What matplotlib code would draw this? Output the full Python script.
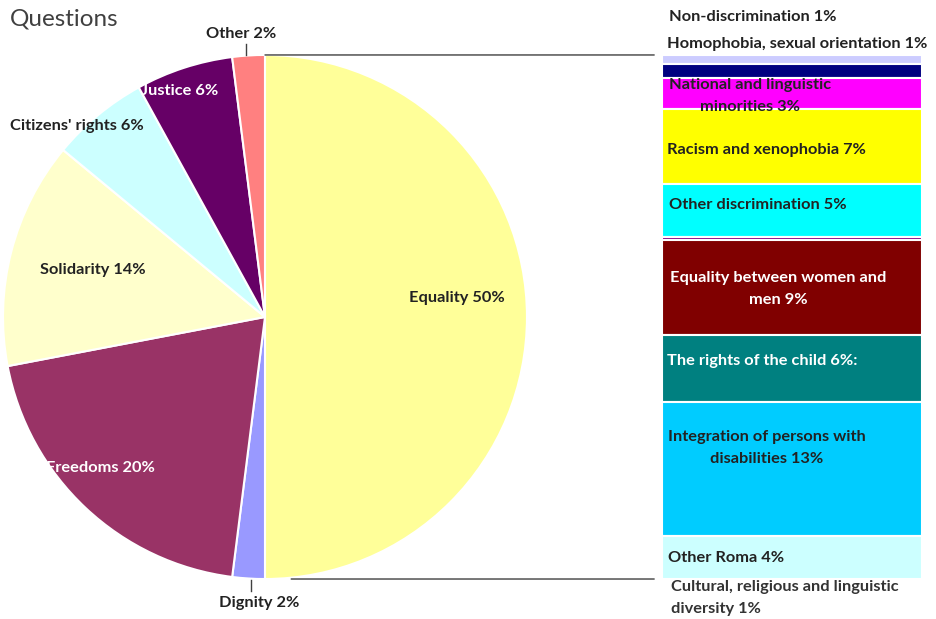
import matplotlib
matplotlib.use("Agg")
import matplotlib.pyplot as plt
from matplotlib.patches import ConnectionPatch

plt.rcParams['font.family'] = ['Lato', 'DejaVu Sans']

# pie: main question groups (clockwise from top)
pie_labels = ["Equality 50%", "Dignity 2%", "Freedoms 20%", "Solidarity 14%",
              "Citizens' rights 6%", "Justice 6%", "Other 2%"]
pie_values = [50, 2, 20, 14, 6, 6, 2]
pie_colors = ["#FFFF99", "#9999FF", "#993366", "#FFFFCC", "#CCFFFF", "#660066", "#FF8080"]

# stacked bar: breakdown of Equality (top to bottom)
bar_values = [0.9, 1.3, 3.0, 7.1, 5.1, 0.3, 9.0, 6.4, 12.8, 4.1]
bar_colors = ["#CCCCFF", "#000080", "#FF00FF", "#FFFF00", "#00FFFF", "#800080",
              "#800000", "#008080", "#00CCFF", "#CCFFFF"]

W, H = 937, 619
fig = plt.figure(figsize=(W / 100, H / 100), dpi=100)

def px(x, y):
    return x / W, 1 - y / H

ax_pie = fig.add_axes([0.0032, 0.0646, 0.5592, 0.8466])
ax_pie.pie(pie_values, colors=pie_colors, startangle=90, counterclock=False,
           radius=1, wedgeprops=dict(edgecolor="white", linewidth=1.5))
ax_pie.set_xlim(-1, 1)
ax_pie.set_ylim(-1, 1)
ax_pie.set_aspect("auto")
ax_pie.axis("off")

ax_bar = fig.add_axes([662 / W, 0.0646, 260 / W, 0.8466])
bottom = 0
for v, c in zip(bar_values, bar_colors):
    ax_bar.bar(0, v, bottom=bottom, width=1, color=c, edgecolor="white", linewidth=1.5)
    bottom += v
ax_bar.set_xlim(-0.5, 0.5)
ax_bar.set_ylim(sum(bar_values), 0)
ax_bar.axis("off")

# connector lines
for (pa, pb) in [((0, 1), (-0.03, 1)), ((0.1, -1), (-0.03, 0))]:
    con = ConnectionPatch(xyA=pa, coordsA=ax_pie.transData,
                          xyB=pb, coordsB=ax_bar.transAxes,
                          color="#404040", linewidth=1)
    fig.add_artist(con)

dark = "#222222"
fs = 11.8

# title
fig.text(*px(10, 19), "Questions", fontsize=17.5, color="#404040", ha="left", va="center")

# pie labels
pie_text = [
    (pie_labels[0], 457, 298, dark),
    (pie_labels[1], 259, 603, dark),
    (pie_labels[2], 100, 468, "white"),
    (pie_labels[3], 93, 270, dark),
    (pie_labels[4], 77, 126, dark),
    (pie_labels[5], 180, 91, "white"),
    (pie_labels[6], 241, 34, dark),
]
for t, x, y, c in pie_text:
    fig.text(*px(x, y), t, fontsize=fs, fontweight="bold", color=c, ha="center", va="center")

# small leader ticks
fig.add_artist(plt.Line2D([246 / W, 246 / W], [1 - 44 / H, 1 - 55 / H], color="#404040", lw=1))
fig.add_artist(plt.Line2D([251 / W, 251 / W], [1 - 580 / H, 1 - 591 / H], color="#404040", lw=1))

# bar labels
bar_text = [
    ("Non-discrimination 1%", 669, 17, dark, "left"),
    ("Homophobia, sexual orientation 1%", 667, 44, dark, "left"),
    ("National and linguistic\nminorities 3%", 750, 96, dark, "center"),
    ("Racism and xenophobia 7%", 667, 150, dark, "left"),
    ("Other discrimination 5%", 669, 205, dark, "left"),
    ("Equality between women and\nmen 9%", 778, 289, "white", "center"),
    ("The rights of the child 6%:", 667, 361, "white", "left"),
    ("Integration of persons with\ndisabilities 13%", 767, 448, dark, "center"),
    ("Other Roma 4%", 668, 558, dark, "left"),
    ("Cultural, religious and linguistic\ndiversity 1%", 671, 598, "#333333", "left"),
]
for t, x, y, c, ha in bar_text:
    fig.text(*px(x, y), t, fontsize=fs, fontweight="bold", color=c, ha=ha, va="center",
             multialignment="center" if ha == "center" else "left", linespacing=1.8)

fig.savefig("out.png", dpi=100)
